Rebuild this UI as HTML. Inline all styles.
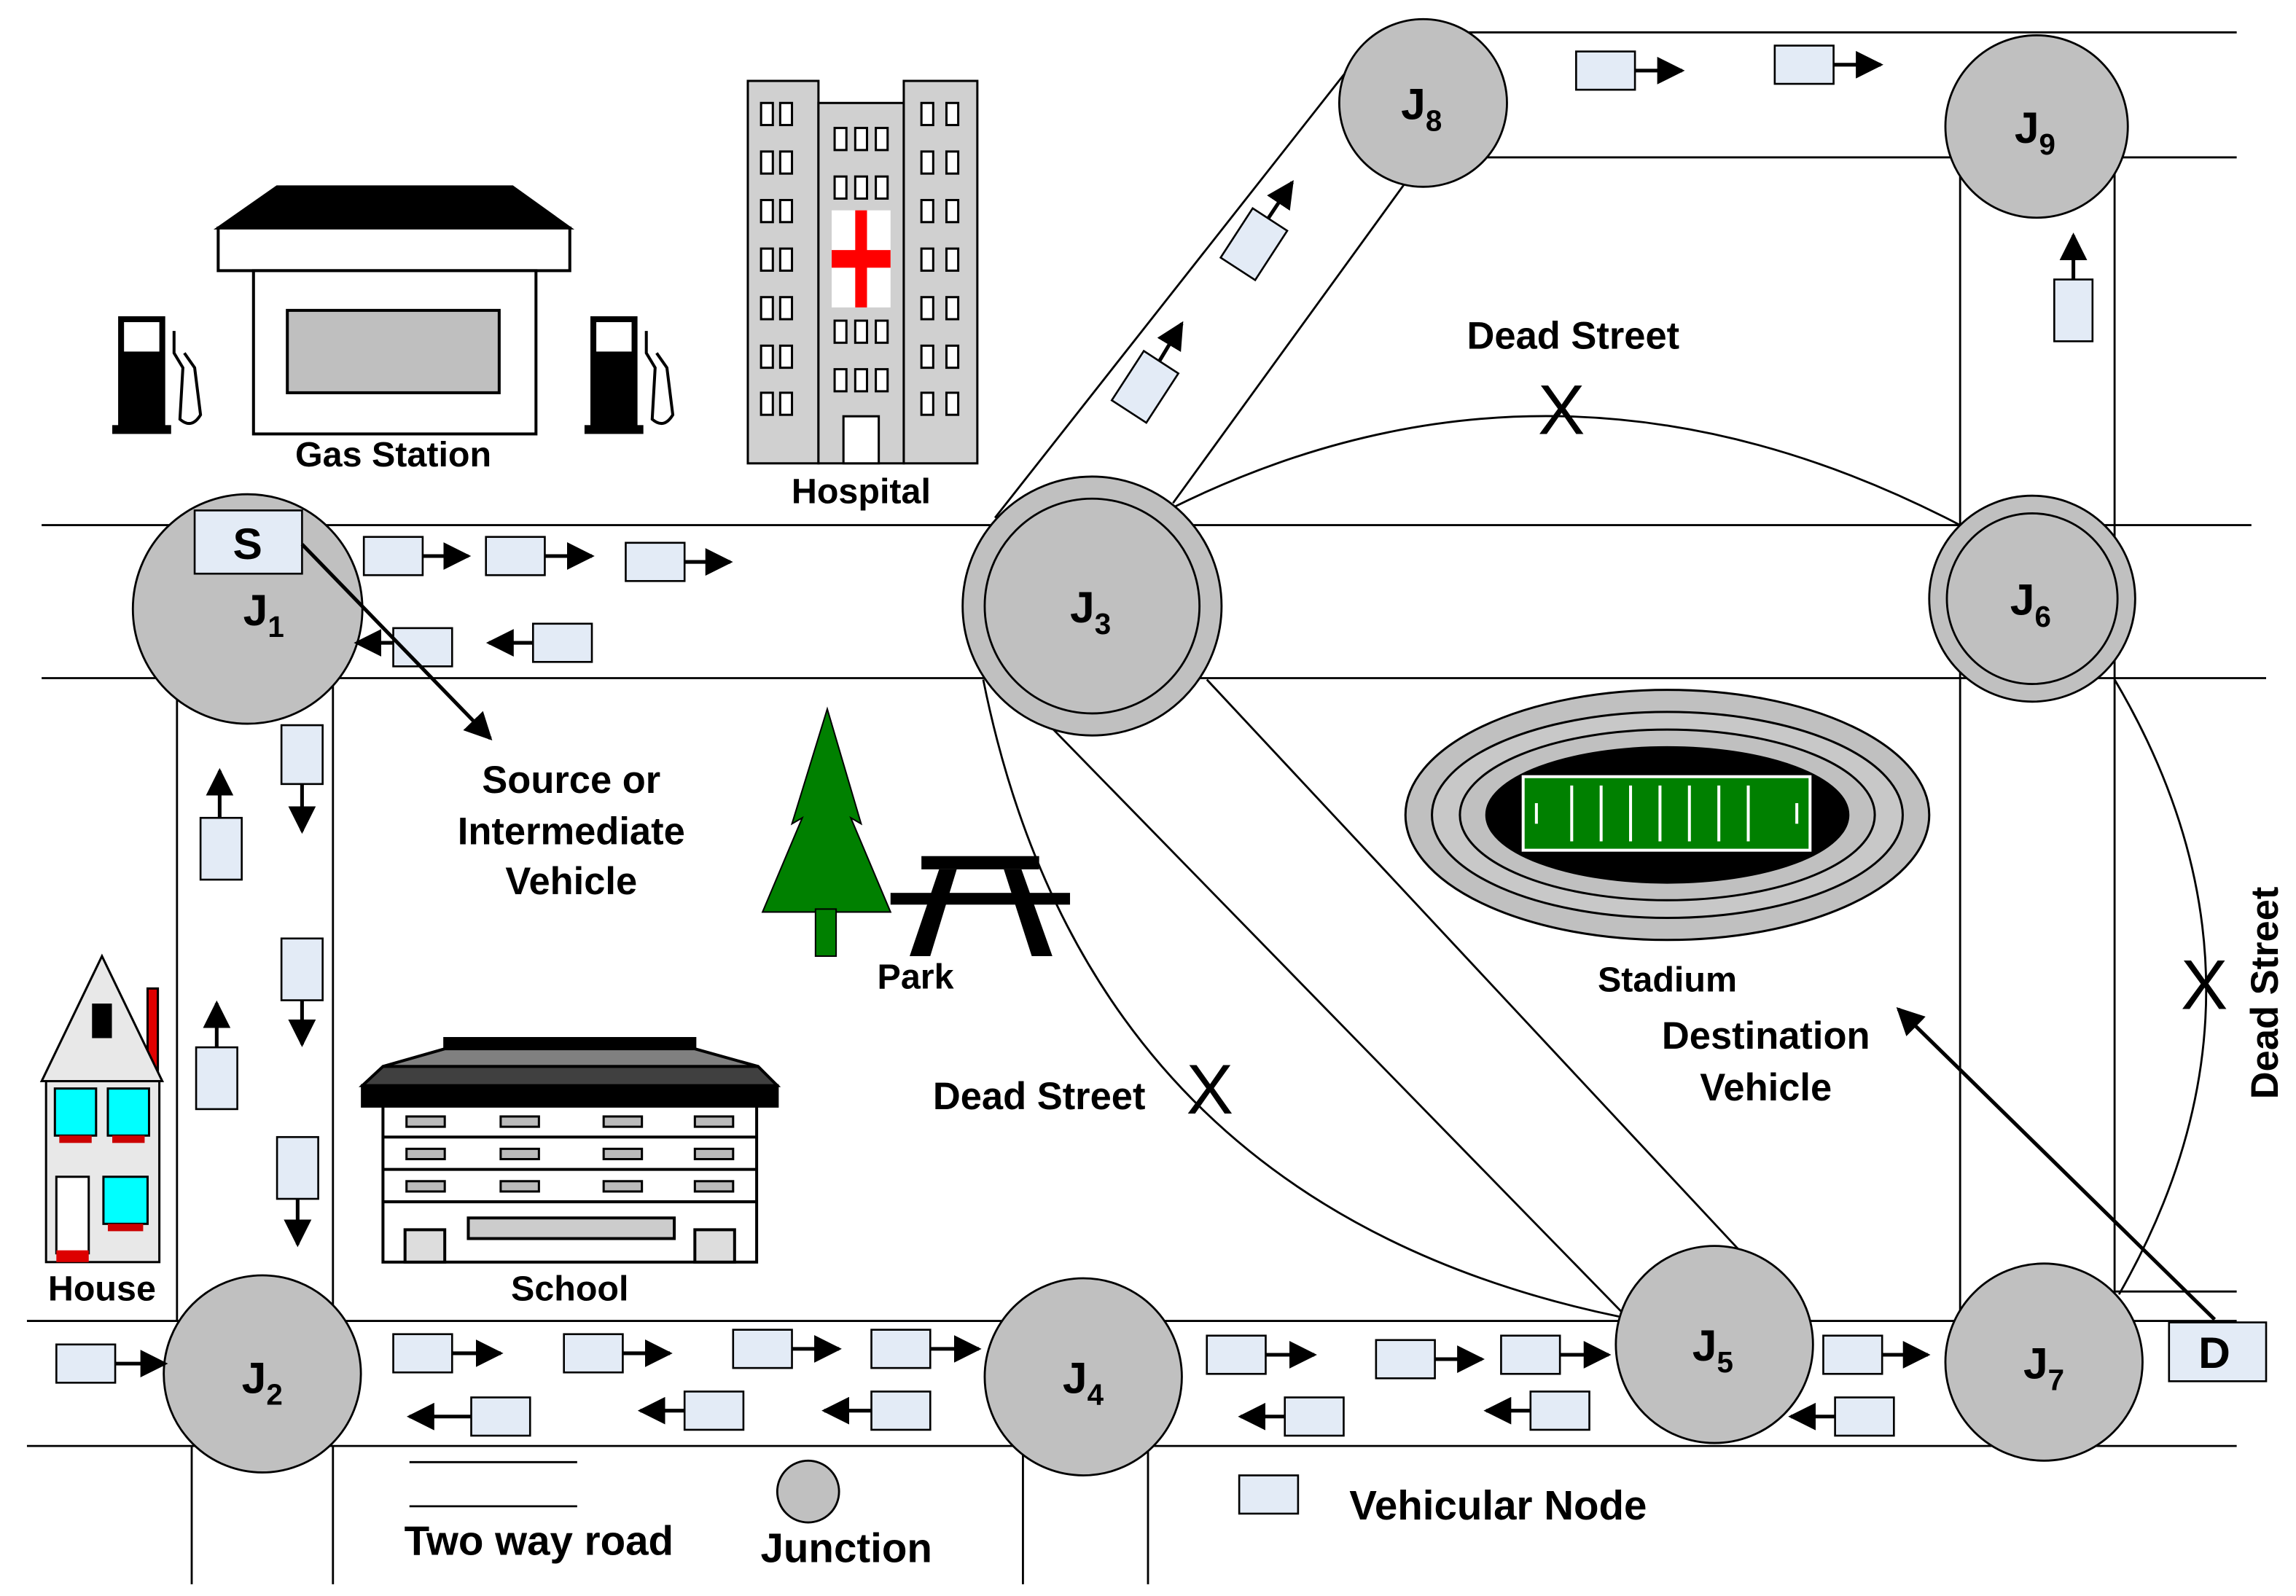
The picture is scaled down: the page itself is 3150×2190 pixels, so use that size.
<!DOCTYPE html>
<html><head><meta charset="utf-8">
<style>
html,body{margin:0;padding:0;background:#fff;}
svg{display:block;}
text{font-family:"Liberation Sans",sans-serif;font-weight:bold;fill:#000;}
</style></head>
<body>
<svg width="3150" height="2190" viewBox="0 0 1560 1085" xmlns="http://www.w3.org/2000/svg">
<defs>
<marker id="ah" viewBox="0 0 10 10" refX="9" refY="5" markerWidth="7.5" markerHeight="7.5" orient="auto-start-reverse"><path d="M0,0 L10,5 L0,10 z" fill="#000"/></marker>
<g id="vh"><rect x="0" y="0" width="40" height="26" fill="#e3ebf6" stroke="#000" stroke-width="1.3"/></g>
</defs>
<rect width="1560" height="1085" fill="#fff"/>
<g stroke="#000" stroke-width="1.4" fill="none">
<line x1="28" y1="357" x2="1530" y2="357"/>
<line x1="28" y1="461" x2="1540" y2="461"/>
<line x1="18" y1="898" x2="1520" y2="898"/>
<line x1="18" y1="983" x2="1520" y2="983"/>
<line x1="120" y1="461" x2="120" y2="898"/>
<line x1="226" y1="461" x2="226" y2="898"/>
<line x1="130" y1="983" x2="130" y2="1077"/>
<line x1="226" y1="983" x2="226" y2="1077"/>
<line x1="695" y1="983" x2="695" y2="1077"/>
<line x1="780" y1="983" x2="780" y2="1077"/>
<line x1="1332" y1="107" x2="1332" y2="898"/>
<line x1="1437" y1="107" x2="1437" y2="898"/>
<line x1="1437" y1="878" x2="1520" y2="878"/>
<line x1="995" y1="22" x2="1520" y2="22"/>
<line x1="1000" y1="107" x2="1520" y2="107"/>
<line x1="676" y1="352" x2="920" y2="42"/>
<line x1="797" y1="342" x2="958" y2="120"/>
<line x1="705" y1="485" x2="1105" y2="895"/>
<line x1="820" y1="462" x2="1182" y2="850"/>
<path d="M797,345 Q1060,215 1332,357"/>
<path d="M668,462 Q740,820 1100,895"/>
<path d="M1437,462 Q1560,670 1440,880"/>
</g>
<g stroke="#000" stroke-width="1.4" fill="#c0c0c0">
<circle cx="168" cy="414" r="78"/>
<circle cx="178" cy="934" r="67"/>
<circle cx="742" cy="412" r="88"/><circle cx="742" cy="412" r="73"/>
<circle cx="736" cy="936" r="67"/>
<circle cx="1165" cy="914" r="67"/>
<circle cx="1381" cy="407" r="70"/><circle cx="1381" cy="407" r="58"/>
<circle cx="1389" cy="926" r="67"/>
<circle cx="967" cy="70" r="57"/>
<circle cx="1384" cy="86" r="62"/>
<circle cx="549" cy="1014" r="21"/>
</g>
<g font-size="30">
<text x="165" y="425">J<tspan font-size="20" dy="8">1</tspan></text>
<text x="164" y="947">J<tspan font-size="20" dy="8">2</tspan></text>
<text x="727" y="423">J<tspan font-size="20" dy="8">3</tspan></text>
<text x="722" y="947">J<tspan font-size="20" dy="8">4</tspan></text>
<text x="1150" y="925">J<tspan font-size="20" dy="8">5</tspan></text>
<text x="1366" y="418">J<tspan font-size="20" dy="8">6</tspan></text>
<text x="1375" y="937">J<tspan font-size="20" dy="8">7</tspan></text>
<text x="952" y="81">J<tspan font-size="20" dy="8">8</tspan></text>
<text x="1369" y="97">J<tspan font-size="20" dy="8">9</tspan></text>
</g>
<g stroke="#000" stroke-width="2.5" marker-end="url(#ah)">
<line x1="287" y1="378" x2="318" y2="378"/>
<line x1="370" y1="378" x2="402" y2="378"/>
<line x1="465" y1="382" x2="496" y2="382"/>
<line x1="267" y1="437" x2="242" y2="437"/>
<line x1="362" y1="437" x2="332" y2="437"/>
<line x1="78" y1="927" x2="112" y2="927"/>
<line x1="307" y1="920" x2="340" y2="920"/>
<line x1="423" y1="920" x2="455" y2="920"/>
<line x1="538" y1="917" x2="570" y2="917"/>
<line x1="632" y1="917" x2="665" y2="917"/>
<line x1="320" y1="963" x2="278" y2="963"/>
<line x1="465" y1="959" x2="435" y2="959"/>
<line x1="592" y1="959" x2="560" y2="959"/>
<line x1="860" y1="921" x2="893" y2="921"/>
<line x1="975" y1="924" x2="1007" y2="924"/>
<line x1="1060" y1="921" x2="1093" y2="921"/>
<line x1="873" y1="963" x2="843" y2="963"/>
<line x1="1040" y1="959" x2="1010" y2="959"/>
<line x1="1247" y1="963" x2="1217" y2="963"/>
<line x1="1279" y1="921" x2="1310" y2="921"/>
<line x1="1111" y1="48" x2="1143" y2="48"/>
<line x1="1246" y1="44" x2="1278" y2="44"/>
<line x1="205" y1="533" x2="205" y2="565"/>
<line x1="149" y1="556" x2="149" y2="524"/>
<line x1="205" y1="680" x2="205" y2="710"/>
<line x1="147" y1="712" x2="147" y2="682"/>
<line x1="202" y1="815" x2="202" y2="846"/>
<line x1="1409" y1="190" x2="1409" y2="160"/>
<line x1="862" y1="148" x2="878" y2="124"/>
<line x1="788" y1="245" x2="803" y2="220"/>
</g>
<g>
<use href="#vh" x="247" y="365"/><use href="#vh" x="330" y="365"/><use href="#vh" x="425" y="369"/>
<use href="#vh" x="267" y="427"/><use href="#vh" x="362" y="424"/>
<use href="#vh" x="38" y="914"/><use href="#vh" x="267" y="907"/><use href="#vh" x="383" y="907"/>
<use href="#vh" x="498" y="904"/><use href="#vh" x="592" y="904"/>
<use href="#vh" x="320" y="950"/><use href="#vh" x="465" y="946"/><use href="#vh" x="592" y="946"/>
<use href="#vh" x="820" y="908"/><use href="#vh" x="935" y="911"/><use href="#vh" x="1020" y="908"/>
<use href="#vh" x="873" y="950"/><use href="#vh" x="1040" y="946"/><use href="#vh" x="1247" y="950"/>
<use href="#vh" x="1239" y="908"/>
<use href="#vh" x="1071" y="35"/><use href="#vh" x="1206" y="31"/>
<use href="#vh" x="842" y="1003"/>
</g>
<g fill="#e3ebf6" stroke="#000" stroke-width="1.3">
<rect x="191" y="493" width="28" height="40"/>
<rect x="136" y="556" width="28" height="42"/>
<rect x="191" y="638" width="28" height="42"/>
<rect x="133" y="712" width="28" height="42"/>
<rect x="188" y="773" width="28" height="42"/>
<rect x="1396" y="190" width="26" height="42"/>
<rect x="-14" y="-20" width="28" height="40" transform="translate(852,166) rotate(33)"/>
<rect x="-14" y="-20" width="28" height="40" transform="translate(778,263) rotate(33)"/>
<rect x="132" y="347" width="73" height="43"/>
<rect x="1474" y="899" width="66" height="40"/>
</g>
<text x="158" y="380" font-size="30">S</text>
<text x="1494" y="930" font-size="30">D</text>
<g stroke="#000" stroke-width="2.5" marker-end="url(#ah)">
<line x1="205" y1="370" x2="333" y2="502"/>
<line x1="1505" y1="897" x2="1290" y2="686"/>
</g>
<g font-size="26" text-anchor="middle">
<text x="388" y="539">Source or</text>
<text x="388" y="574">Intermediate</text>
<text x="388" y="608">Vehicle</text>
<text x="1069" y="237">Dead Street</text>
<text x="706" y="754">Dead Street</text>
<text x="1200" y="713">Destination</text>
<text x="1200" y="748">Vehicle</text>
<text x="1133" y="674" font-size="24">Stadium</text>
<text x="267" y="317" font-size="24">Gas Station</text>
<text x="585" y="342" font-size="24">Hospital</text>
<text x="622" y="672" font-size="24">Park</text>
<text x="387" y="884" font-size="24">School</text>
<text x="69" y="884" font-size="24">House</text>
<text x="366" y="1057" font-size="28">Two way road</text>
<text x="575" y="1062" font-size="28">Junction</text>
<text x="1018" y="1033" font-size="28">Vehicular Node</text>
<text x="0" y="0" font-size="26" transform="translate(1548,675) rotate(-90)">Dead Street</text>
</g>
<g font-size="48" text-anchor="middle">
<text x="1061" y="295" style="font-weight:normal">X</text>
<text x="822" y="757" style="font-weight:normal">X</text>
<text x="1498" y="686" style="font-weight:normal">X</text>
</g>
<g stroke="#000" stroke-width="1.4">
<line x1="278" y1="994" x2="392" y2="994"/>
<line x1="278" y1="1024" x2="392" y2="1024"/>
</g>
<g stroke="#000" stroke-width="2">
<polygon points="148,155 188,127 348,127 387,155" fill="#000"/>
<rect x="148" y="155" width="239" height="29" fill="#fff"/>
<rect x="172" y="184" width="192" height="111" fill="#fff"/>
<rect x="195" y="211" width="144" height="56" fill="#bfbfbf"/>
</g>
<g fill="#000">
<rect x="80" y="215" width="32" height="77"/><rect x="84" y="219" width="24" height="20" fill="#fff"/>
<rect x="76" y="289" width="40" height="6"/>
<rect x="401" y="215" width="32" height="77"/><rect x="405" y="219" width="24" height="20" fill="#fff"/>
<rect x="397" y="289" width="40" height="6"/>
</g>
<g stroke="#000" stroke-width="2" fill="none">
<path d="M118,225 L118,240 L124,250 L122,285 Q130,292 136,282 L132,250 L125,240"/>
<path d="M439,225 L439,240 L445,250 L443,285 Q451,292 457,282 L453,250 L446,240"/>
</g>
<g stroke="#000" stroke-width="1.5">
<rect x="508" y="55" width="48" height="260" fill="#d0d0d0"/>
<rect x="556" y="70" width="58" height="245" fill="#d0d0d0"/>
<rect x="614" y="55" width="50" height="260" fill="#d0d0d0"/>
<rect x="573" y="283" width="24" height="32" fill="#fff"/>
</g>
<rect x="565" y="143" width="40" height="66" fill="#fff"/>
<rect x="581" y="143" width="8" height="66" fill="#f00"/>
<rect x="565" y="170" width="40" height="12" fill="#f00"/>
<g fill="#fff" stroke="#000" stroke-width="1.5">
<rect x="517" y="70" width="8" height="15"/><rect x="530" y="70" width="8" height="15"/>
<rect x="517" y="103" width="8" height="15"/><rect x="530" y="103" width="8" height="15"/>
<rect x="517" y="136" width="8" height="15"/><rect x="530" y="136" width="8" height="15"/>
<rect x="517" y="169" width="8" height="15"/><rect x="530" y="169" width="8" height="15"/>
<rect x="517" y="202" width="8" height="15"/><rect x="530" y="202" width="8" height="15"/>
<rect x="517" y="235" width="8" height="15"/><rect x="530" y="235" width="8" height="15"/>
<rect x="517" y="267" width="8" height="15"/><rect x="530" y="267" width="8" height="15"/>
<rect x="626" y="70" width="8" height="15"/><rect x="643" y="70" width="8" height="15"/>
<rect x="626" y="103" width="8" height="15"/><rect x="643" y="103" width="8" height="15"/>
<rect x="626" y="136" width="8" height="15"/><rect x="643" y="136" width="8" height="15"/>
<rect x="626" y="169" width="8" height="15"/><rect x="643" y="169" width="8" height="15"/>
<rect x="626" y="202" width="8" height="15"/><rect x="643" y="202" width="8" height="15"/>
<rect x="626" y="235" width="8" height="15"/><rect x="643" y="235" width="8" height="15"/>
<rect x="626" y="267" width="8" height="15"/><rect x="643" y="267" width="8" height="15"/>
<rect x="567" y="87" width="8" height="15"/><rect x="581" y="87" width="8" height="15"/><rect x="595" y="87" width="8" height="15"/>
<rect x="567" y="120" width="8" height="15"/><rect x="581" y="120" width="8" height="15"/><rect x="595" y="120" width="8" height="15"/>
<rect x="567" y="218" width="8" height="15"/><rect x="581" y="218" width="8" height="15"/><rect x="595" y="218" width="8" height="15"/>
<rect x="567" y="251" width="8" height="15"/><rect x="581" y="251" width="8" height="15"/><rect x="595" y="251" width="8" height="15"/>
</g>
<polygon points="562,482 585,560 578,556 605,620 518,620 545,556 538,560" fill="#008000" stroke="#000" stroke-width="1"/>
<rect x="554" y="618" width="14" height="32" fill="#008000" stroke="#000" stroke-width="1"/>
<g fill="#000">
<rect x="626" y="582" width="80" height="9"/>
<rect x="605" y="607" width="122" height="8"/>
<polygon points="638,591 650,591 632,650 618,650"/>
<polygon points="682,591 694,591 715,650 701,650"/>
</g>
<g stroke="#000" stroke-width="2">
<rect x="302" y="706" width="170" height="9" fill="#000"/>
<polygon points="260,725 302,713 472,713 515,725" fill="#808080"/>
<rect x="246" y="738" width="282" height="14" fill="#000"/>
<polygon points="246,738 260,725 515,725 528,738" fill="#404040"/>
<rect x="260" y="752" width="254" height="106" fill="#fff"/>
<line x1="260" y1="773" x2="514" y2="773"/><line x1="260" y1="795" x2="514" y2="795"/><line x1="260" y1="817" x2="514" y2="817"/>
<rect x="275" y="836" width="27" height="22" fill="#ddd"/><rect x="472" y="836" width="27" height="22" fill="#ddd"/>
<rect x="318" y="828" width="140" height="14" fill="#ccc"/>
</g>
<g fill="#bbb" stroke="#000" stroke-width="1.5">
<rect x="276" y="759" width="26" height="7"/><rect x="340" y="759" width="26" height="7"/><rect x="410" y="759" width="26" height="7"/><rect x="472" y="759" width="26" height="7"/>
<rect x="276" y="781" width="26" height="7"/><rect x="340" y="781" width="26" height="7"/><rect x="410" y="781" width="26" height="7"/><rect x="472" y="781" width="26" height="7"/>
<rect x="276" y="803" width="26" height="7"/><rect x="340" y="803" width="26" height="7"/><rect x="410" y="803" width="26" height="7"/><rect x="472" y="803" width="26" height="7"/>
</g>
<g stroke="#000" stroke-width="1.5">
<rect x="100" y="672" width="7" height="60" fill="#e00000"/>
<polygon points="28,735 69,650 110,735" fill="#e8e8e8"/>
<rect x="31" y="735" width="77" height="123" fill="#e8e8e8"/>
<rect x="63" y="683" width="12" height="22" fill="#000"/>
<rect x="37" y="740" width="28" height="32" fill="#0ff"/>
<rect x="73" y="740" width="28" height="32" fill="#0ff"/>
<rect x="70" y="800" width="30" height="32" fill="#0ff"/>
<rect x="38" y="800" width="22" height="52" fill="#fff"/>
</g>
<rect x="38" y="850" width="22" height="8" fill="#d00"/>
<rect x="40" y="772" width="22" height="5" fill="#c00"/><rect x="76" y="772" width="22" height="5" fill="#c00"/><rect x="73" y="832" width="24" height="5" fill="#c00"/>
<g stroke="#000" stroke-width="1.5">
<ellipse cx="1133" cy="554" rx="178" ry="85" fill="#c0c0c0"/>
<ellipse cx="1133" cy="554" rx="160" ry="70" fill="#c8c8c8"/>
<ellipse cx="1133" cy="554" rx="141" ry="58" fill="#c0c0c0"/>
<ellipse cx="1133" cy="554" rx="123" ry="46" fill="#000"/>
<rect x="1035" y="528" width="195" height="50" fill="#008000" stroke="#fff" stroke-width="2"/>
</g>
<g stroke="#fff" stroke-width="2">
<line x1="1068" y1="534" x2="1068" y2="572"/><line x1="1088" y1="534" x2="1088" y2="572"/>
<line x1="1108" y1="534" x2="1108" y2="572"/><line x1="1128" y1="534" x2="1128" y2="572"/>
<line x1="1148" y1="534" x2="1148" y2="572"/><line x1="1168" y1="534" x2="1168" y2="572"/>
<line x1="1188" y1="534" x2="1188" y2="572"/>
<line x1="1044" y1="546" x2="1044" y2="560"/><line x1="1221" y1="546" x2="1221" y2="560"/>
</g>
</svg>
</body></html>
